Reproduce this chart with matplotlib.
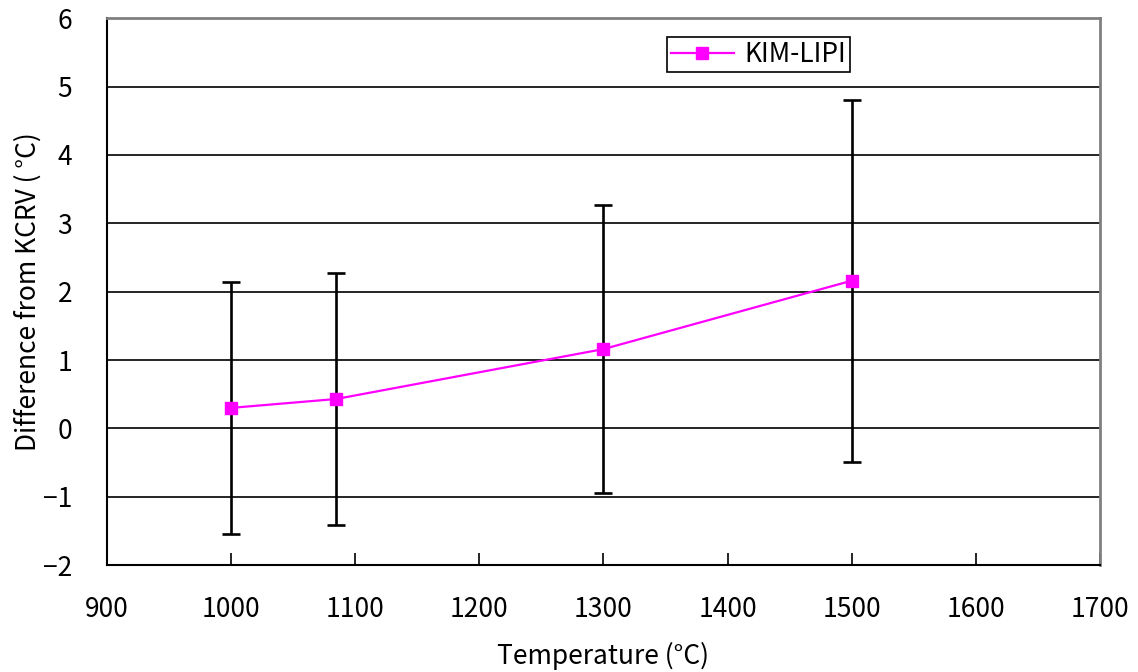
import matplotlib

matplotlib.use("Agg")
import matplotlib.pyplot as plt

plt.rcParams["font.family"] = ["Noto Sans CJK JP", "DejaVu Sans"]

# Datos
temperaturas = [1000, 1084.62, 1300, 1500]
diferencias = [0.30, 0.43, 1.16, 2.16]
incertidumbres = [1.84, 1.84, 2.11, 2.65]

x_ticks = [900, 1000, 1100, 1200, 1300, 1400, 1500, 1600, 1700]
y_ticks = [-2, -1, 0, 1, 2, 3, 4, 5, 6]

fig = plt.figure(figsize=(11.38, 6.72), dpi=100)
ax = fig.add_axes([0.094, 0.159, 0.8726, 0.814])

# Líneas de cuadrícula horizontales
for y in y_ticks[1:-1]:
    ax.axhline(y, color="black", linewidth=1.2, zorder=1)

ax.errorbar(
    temperaturas,
    diferencias,
    yerr=incertidumbres,
    fmt="none",
    ecolor="black",
    elinewidth=1.9,
    capsize=6.5,
    capthick=1.9,
    zorder=2,
)
ax.plot(
    temperaturas,
    diferencias,
    color="#ff00ff",
    marker="s",
    markersize=8,
    linewidth=1.6,
    label="KIM-LIPI",
    zorder=3,
)

ax.set_xlim(900, 1700)
ax.set_ylim(-2, 6)
ax.set_xticks(x_ticks)
ax.set_yticks(y_ticks)
ax.tick_params(axis="x", direction="in", length=9, width=1.2, labelsize=19, pad=22)
ax.tick_params(axis="y", direction="in", length=0, labelsize=19, pad=25)
ax.set_yticklabels([str(v).replace("-", "\u2212") for v in y_ticks])

for lado in ["left", "bottom"]:
    ax.spines[lado].set_color("black")
    ax.spines[lado].set_linewidth(1.5)
for lado in ["top", "right"]:
    ax.spines[lado].set_color("#808080")
    ax.spines[lado].set_linewidth(2)

# Etiquetas de ejes colocadas en coordenadas de figura
fig.text(603 / 1138, 1 - 656 / 672, "Temperature (°C)", fontsize=19,
         ha="center", va="center")
fig.text(28 / 1138, 1 - 292 / 672, "Difference from KCRV ( °C)", fontsize=19,
         ha="center", va="center", rotation=90)

leg = ax.legend(
    loc="upper left",
    bbox_to_anchor=(0.5505, 0.989),
    fontsize=19,
    frameon=True,
    fancybox=False,
    edgecolor="black",
    framealpha=1,
    handlelength=2.4,
    borderpad=0.15,
    handletextpad=0.4,
)
leg.get_frame().set_linewidth(1.2)

plt.savefig("out.png", dpi=100)
plt.close()
